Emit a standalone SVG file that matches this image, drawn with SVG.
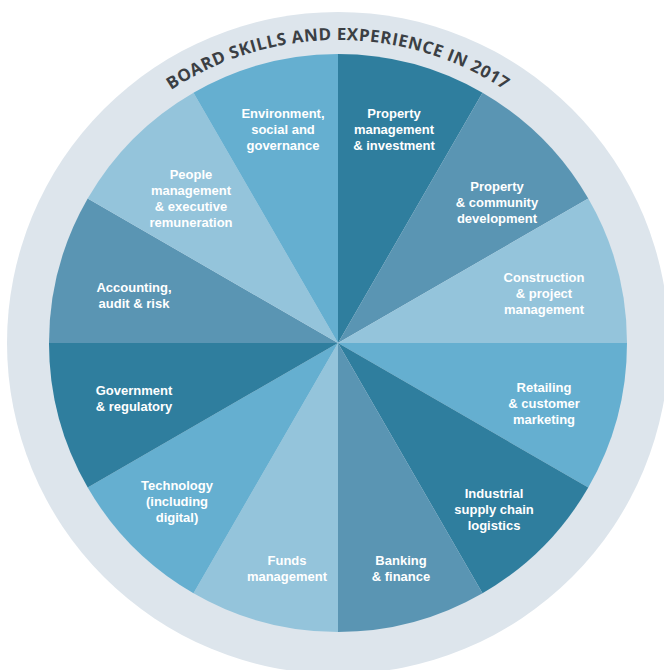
<svg xmlns="http://www.w3.org/2000/svg" width="664" height="670" viewBox="0 0 664 670">
  <style>
    .dark { fill: #2f7e9e; }
    .mid { fill: #5a95b3; }
    .light { fill: #94c4db; }
    .sky { fill: #65afd0; }
    .label { font-family: "Liberation Sans", Arial, sans-serif; font-weight: 700; font-size: 13px; fill: #ffffff; text-anchor: middle; }
    .title { font-family: "Open Sans", "Liberation Sans", sans-serif; font-weight: 700; font-size: 17px; fill: #3b3f44; }
  </style>
  <defs>
    <path id="titleArc" d="M 35 343 A 303 303 0 0 1 641 343"/>
  </defs>
  <rect width="664" height="670" fill="#ffffff"/>

  <!-- outer band -->
  <circle cx="338" cy="343" r="331" fill="#dde5ec"/>
  <text class="title"><textPath href="#titleArc" startOffset="50%" text-anchor="middle" letter-spacing="0.5">BOARD SKILLS AND EXPERIENCE IN 2017</textPath></text>

  <!-- wedges, clockwise from top -->
  <g id="property-management">
    <path class="dark" d="M338 343 L338 54 A289 289 0 0 1 482.5 92.72 Z"/>
    <text class="label" x="394" y="118">Property</text>
    <text class="label" x="394" y="134">management</text>
    <text class="label" x="394" y="150">&amp; investment</text>
  </g>
  <g id="property-community">
    <path class="mid" d="M338 343 L482.5 92.72 A289 289 0 0 1 588.28 198.5 Z"/>
    <text class="label" x="497" y="191">Property</text>
    <text class="label" x="497" y="207">&amp; community</text>
    <text class="label" x="497" y="223">development</text>
  </g>
  <g id="construction">
    <path class="light" d="M338 343 L588.28 198.5 A289 289 0 0 1 627 343 Z"/>
    <text class="label" x="544" y="282">Construction</text>
    <text class="label" x="544" y="298">&amp; project</text>
    <text class="label" x="544" y="314">management</text>
  </g>
  <g id="retailing">
    <path class="sky" d="M338 343 L627 343 A289 289 0 0 1 588.28 487.5 Z"/>
    <text class="label" x="544" y="392">Retailing</text>
    <text class="label" x="544" y="408">&amp; customer</text>
    <text class="label" x="544" y="424">marketing</text>
  </g>
  <g id="industrial">
    <path class="dark" d="M338 343 L588.28 487.5 A289 289 0 0 1 482.5 593.28 Z"/>
    <text class="label" x="494" y="498">Industrial</text>
    <text class="label" x="494" y="514">supply chain</text>
    <text class="label" x="494" y="530">logistics</text>
  </g>
  <g id="banking">
    <path class="mid" d="M338 343 L482.5 593.28 A289 289 0 0 1 338 632 Z"/>
    <text class="label" x="401" y="565">Banking</text>
    <text class="label" x="401" y="581">&amp; finance</text>
  </g>
  <g id="funds">
    <path class="light" d="M338 343 L338 632 A289 289 0 0 1 193.5 593.28 Z"/>
    <text class="label" x="287" y="565">Funds</text>
    <text class="label" x="287" y="581">management</text>
  </g>
  <g id="technology">
    <path class="sky" d="M338 343 L193.5 593.28 A289 289 0 0 1 87.72 487.5 Z"/>
    <text class="label" x="177" y="490">Technology</text>
    <text class="label" x="177" y="506">(including</text>
    <text class="label" x="177" y="522">digital)</text>
  </g>
  <g id="government">
    <path class="dark" d="M338 343 L87.72 487.5 A289 289 0 0 1 49 343 Z"/>
    <text class="label" x="134" y="395">Government</text>
    <text class="label" x="134" y="411">&amp; regulatory</text>
  </g>
  <g id="accounting">
    <path class="mid" d="M338 343 L49 343 A289 289 0 0 1 87.72 198.5 Z"/>
    <text class="label" x="134" y="292">Accounting,</text>
    <text class="label" x="134" y="308">audit &amp; risk</text>
  </g>
  <g id="people">
    <path class="light" d="M338 343 L87.72 198.5 A289 289 0 0 1 193.5 92.72 Z"/>
    <text class="label" x="191" y="179">People</text>
    <text class="label" x="191" y="195">management</text>
    <text class="label" x="191" y="211">&amp; executive</text>
    <text class="label" x="191" y="227">remuneration</text>
  </g>
  <g id="environment">
    <path class="sky" d="M338 343 L193.5 92.72 A289 289 0 0 1 338 54 Z"/>
    <text class="label" x="283" y="118">Environment,</text>
    <text class="label" x="283" y="134">social and</text>
    <text class="label" x="283" y="150">governance</text>
  </g>
</svg>
